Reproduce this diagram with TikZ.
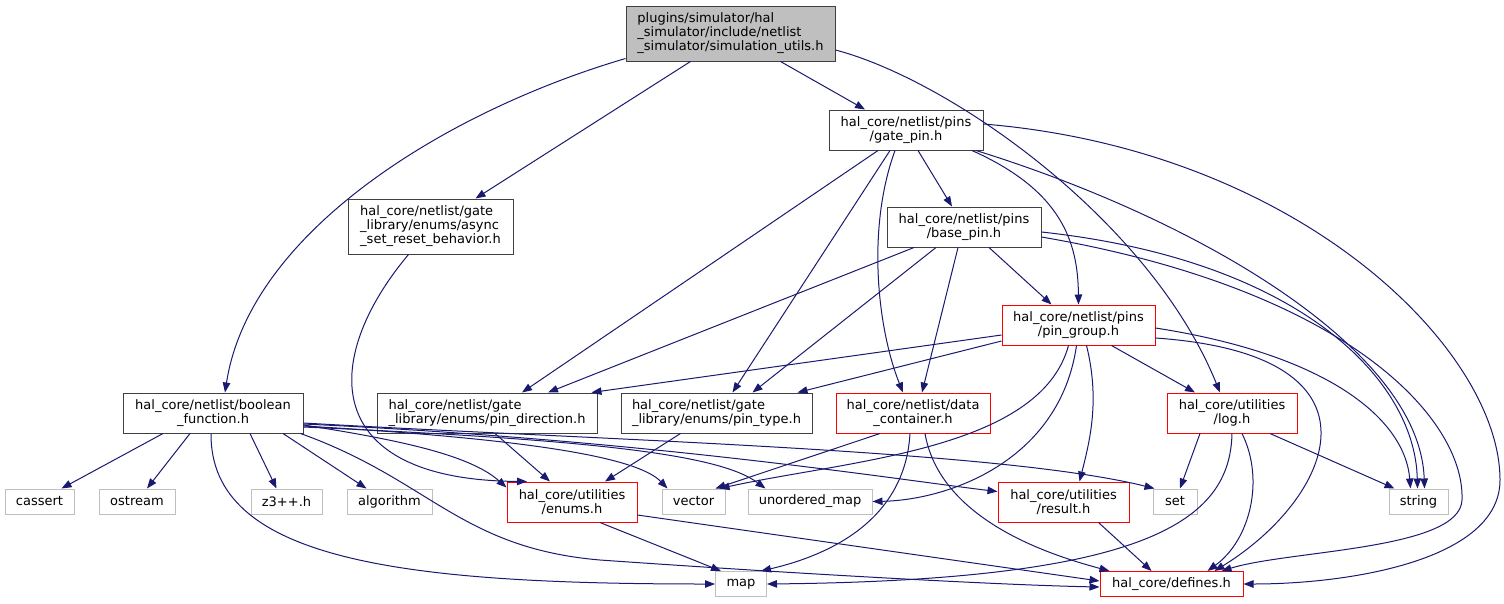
\documentclass[tikz,border=0pt]{standalone}
\usepackage{fontspec}
\setmainfont{DejaVu Sans}
\usetikzlibrary{arrows.meta}
\definecolor{edgec}{HTML}{191970}
\definecolor{gdark}{HTML}{404040}
\definecolor{glight}{HTML}{BFBFBF}
\begin{document}
\begin{tikzpicture}[x=1pt,y=-1pt,
  every node/.style={font=\fontsize{13}{14}\selectfont, inner sep=0pt},
  nb/.style={draw=gdark, line width=1pt, fill=white, align=center},
  nr/.style={draw=red, line width=1pt, fill=white, align=center},
  ng/.style={draw=glight, line width=1pt, fill=white, align=center, minimum height=25pt},
  ed/.style={draw=edgec, line width=1pt, -{Triangle[length=10pt,width=7.5pt]}}]
\useasboundingbox (0,0) rectangle (1504,603);
% nodes
\node[nb, fill=glight, align=left, minimum width=209pt, minimum height=55pt] (top) at (730.5,33.5) {plugins/simulator/hal\\\_simulator/include/netlist\\\_simulator/simulation\_utils.h};
\node[nb, minimum width=154pt, minimum height=40pt] (gp) at (906,130) {hal\_core/netlist/pins\\/gate\_pin.h};
\node[nb, align=left, minimum width=165pt, minimum height=55pt] (async) at (430.5,226.5) {hal\_core/netlist/gate\\\_library/enums/async\\\_set\_reset\_behavior.h};
\node[nb, minimum width=154pt, minimum height=40pt] (bp) at (964,227) {hal\_core/netlist/pins\\/base\_pin.h};
\node[nr, minimum width=153pt, minimum height=40pt] (pg) at (1078.5,325) {hal\_core/netlist/pins\\/pin\_group.h};
\node[nb, minimum width=180pt, minimum height=40pt] (bf) at (213,413) {hal\_core/netlist/boolean\\\_function.h};
\node[nb, align=left, minimum width=220pt, minimum height=40pt] (pd) at (487,413) {hal\_core/netlist/gate\\\_library/enums/pin\_direction.h};
\node[nb, align=left, minimum width=191pt, minimum height=40pt] (pt) at (716.5,413) {hal\_core/netlist/gate\\\_library/enums/pin\_type.h};
\node[nr, minimum width=154pt, minimum height=40pt] (dc) at (913,413) {hal\_core/netlist/data\\\_container.h};
\node[nr, minimum width=130pt, minimum height=40pt] (log) at (1232,413) {hal\_core/utilities\\/log.h};
\node[ng, minimum width=69pt] (cassert) at (39.5,501.5) {cassert};
\node[ng, minimum width=76pt] (ostream) at (137,501.5) {ostream};
\node[ng, minimum width=71pt] (z3) at (286.5,501.5) {z3++.h};
\node[ng, minimum width=85pt] (algo) at (389.5,501.5) {algorithm};
\node[nr, minimum width=130pt, minimum height=40pt] (enums) at (572,502) {hal\_core/utilities\\/enums.h};
\node[ng, minimum width=63pt] (vector) at (693.5,501.5) {vector};
\node[ng, minimum width=124pt] (umap) at (810,501.5) {unordered\_map};
\node[nr, minimum width=131pt, minimum height=40pt] (result) at (1063.5,502) {hal\_core/utilities\\/result.h};
\node[ng, minimum width=44pt] (set) at (1175,501.5) {set};
\node[ng, minimum width=59pt] (string) at (1418.5,501.5) {string};
\node[ng, minimum width=51pt] (map) at (741,584) {map};
\node[nr, minimum width=143pt, minimum height=25pt] (defines) at (1171.5,584) {hal\_core/defines.h};
% edges from top
\draw[ed] ([yshift=3pt]top.south west) .. controls (450,110) and (250,230) .. ([xshift=12pt]bf.north);
\draw[ed] ([xshift=-40pt]top.south) -- ([xshift=45pt]async.north);
\draw[ed] ([xshift=50pt]top.south) -- ([xshift=-41pt]gp.north);
\draw[ed] ([yshift=-16.5pt]top.east) .. controls (950,80) and (1150,220) .. ([xshift=-12pt]log.north);
% gate_pin
\draw[ed] ([xshift=12pt]gp.south) -- ([xshift=-12pt]bp.north);
\draw[ed] ([xshift=66pt]gp.south) .. controls (1060,190) and (1078,240) .. (pg.north);
\draw[ed] ([xshift=-28pt]gp.south) -- ([xshift=35pt]pd.north);
\draw[ed] ([xshift=-16pt]gp.south) -- ([xshift=16pt]pt.north);
\draw[ed] ([xshift=-11pt]gp.south) .. controls (866,230) and (878,330) .. ([xshift=-10pt]dc.north);
\draw[ed] ([xshift=70pt]gp.south) .. controls (1200,220) and (1420,350) .. ([xshift=6pt]string.north);
\draw[ed] ([yshift=6pt]gp.east) .. controls (1300,150) and (1500,350) .. (1500,480) .. controls (1500,560) and (1350,584) .. (defines.east);
% base_pin
\draw[ed] ([xshift=-50pt]bp.south) -- ([xshift=61pt]pd.north);
\draw[ed] ([xshift=-28pt]bp.south) -- ([xshift=36pt]pt.north);
\draw[ed] ([xshift=-6pt]bp.south) -- ([xshift=9pt]dc.north);
\draw[ed] ([xshift=25pt]bp.south) -- ([xshift=-27pt]pg.north);
\draw[ed] ([yshift=-5pt]bp.east) .. controls (1300,260) and (1415,380) .. ([xshift=-1pt]string.north);
\draw[ed] ([yshift=-10pt]bp.east) .. controls (1350,290) and (1465,420) .. (1462,500) .. controls (1460,550) and (1290,550) .. ([xshift=50pt]defines.north);
% pin_group
\draw[ed] ([yshift=-10pt]pg.west) -- ([xshift=-6pt]pd.north east);
\draw[ed] ([yshift=-16pt]pg.west) -- ([xshift=-15pt]pt.north east);
\draw[ed] ([xshift=-10pt]pg.south) .. controls (1040,450) and (850,460) .. ([xshift=26pt]vector.north);
\draw[ed] ([xshift=-2pt]pg.south) .. controls (1060,460) and (950,500) .. (umap.east);
\draw[ed] ([xshift=8pt]pg.south) .. controls (1100,400) and (1090,440) .. ([xshift=16pt]result.north);
\draw[ed] ([xshift=33pt]pg.south) -- ([xshift=-37pt]log.north);
\draw[ed] ([yshift=-3pt]pg.east) .. controls (1330,355) and (1405,420) .. ([xshift=-8pt]string.north);
\draw[ed] ([yshift=-13pt]pg.east) .. controls (1400,355) and (1330,500) .. ([xshift=43pt]defines.north);
% log
\draw[ed] ([xshift=-32pt]log.south) -- ([xshift=5pt]set.north);
\draw[ed] ([xshift=38pt]log.south) -- ([xshift=-24pt]string.north);
\draw[ed] (log.south) .. controls (1230,520) and (1150,580) .. (map.east);
\draw[ed] ([xshift=10pt]log.south) .. controls (1265,480) and (1250,540) .. ([xshift=36pt]defines.north);
% data_container
\draw[ed] ([xshift=-33pt]dc.south) -- ([xshift=22pt]vector.north);
\draw[ed] ([xshift=-3pt]dc.south) .. controls (905,520) and (830,555) .. ([xshift=20pt]map.north);
\draw[ed] ([xshift=12pt]dc.south) .. controls (940,520) and (1050,555) .. ([xshift=-62pt]defines.north);
% enums sources
\draw[ed] ([xshift=8pt]pd.south) -- ([xshift=-22pt]enums.north);
\draw[ed] ([xshift=-36pt]pt.south) -- ([xshift=33pt]enums.north);
\draw[ed] ([xshift=-22pt]async.south) .. controls (320,360) and (320,480) .. ([xshift=-45pt]enums.north);
% boolean_function
\draw[ed] ([xshift=-50pt]bf.south) -- ([xshift=22pt]cassert.north);
\draw[ed] ([xshift=-23pt]bf.south) -- ([xshift=10pt]ostream.north);
\draw[ed] ([xshift=37pt]bf.south) -- ([xshift=-10pt]z3.north);
\draw[ed] ([xshift=70pt]bf.south) -- ([xshift=-23pt]algo.north);
\draw[ed] ([xshift=-2pt]bf.south) .. controls (210,560) and (400,584) .. (map.west);
\draw[ed] ([xshift=-3pt]bf.south east) .. controls (430,480) and (460,548) .. (600,560) .. controls (800,574) and (1000,585) .. ([yshift=-3pt]defines.west);
\draw[ed] ([yshift=-12pt]bf.east) .. controls (400,440) and (470,455) .. ([yshift=-6pt]enums.north west);
\draw[ed] ([yshift=-13pt]bf.east) .. controls (550,440) and (640,460) .. ([xshift=6pt]vector.north west);
\draw[ed] ([yshift=-14pt]bf.east) .. controls (600,440) and (720,455) .. ([xshift=18pt]umap.north west);
\draw[ed] ([yshift=-11pt]bf.east) .. controls (650,440) and (900,480) .. ([yshift=-10pt]result.north west);
\draw[ed] ([yshift=-10pt]bf.east) .. controls (600,440) and (1000,450) .. ([xshift=2pt]set.north west);
% enums, result
\draw[ed] ([xshift=28pt]enums.south) -- ([xshift=-20pt]map.north);
\draw[ed] ([yshift=-13pt]enums.east) -- ([yshift=3pt]defines.west);
\draw[ed] ([xshift=35pt]result.south) -- ([xshift=-20pt]defines.north);
\end{tikzpicture}
\end{document}
